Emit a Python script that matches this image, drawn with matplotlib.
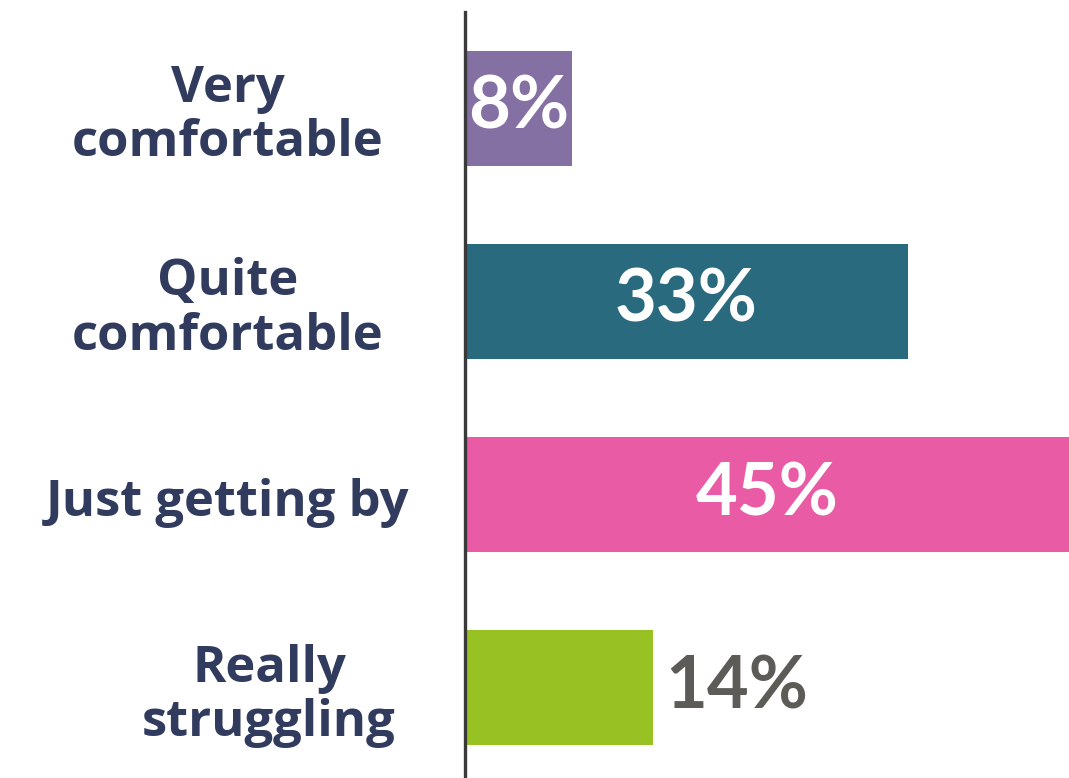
import matplotlib
matplotlib.use("Agg")
import matplotlib.pyplot as plt

# Survey responses: how people feel they are managing financially
categories = ["Very\ncomfortable", "Quite\ncomfortable", "Just getting by", "Really\nstruggling"]
shares = [8, 33, 45, 14]
value_labels = ["8%", "33%", "45%", "14%"]
bar_colors = ["#8470A3", "#2A6A7E", "#EA5BA5", "#98C124"]

NAVY = "#313B5E"
GREY = "#5C5B57"

plt.rcParams["font.family"] = ["Open Sans", "DejaVu Sans"]

fig = plt.figure(figsize=(10.69, 7.78), dpi=100)
ax = fig.add_axes([465 / 1069, 0.0, 1 - 465 / 1069, 1 - 12 / 778])

ypos = list(range(len(categories)))
ax.barh(ypos, shares, height=0.595, color=bar_colors, zorder=2)

ax.set_xlim(0, 45)
ax.set_ylim(3.466, -0.497)

# value labels: inside the bar in white, or just past the end in grey
for y, v, lab in zip(ypos, shares, value_labels):
    if lab == "14%":
        ax.text(v + 0.9, y, lab, ha="left", va="center", fontsize=52,
                fontweight="bold", color=GREY, zorder=3, family=["Lato"])
    else:
        ax.text(v / 2, y, lab, ha="center", va="center", fontsize=52,
                fontweight="bold", color="white", zorder=3, family=["Lato"])

# category names, centred in the left margin
label_x = [228, 228, 228, 269]
for y, name, lx in zip(ypos, categories, label_x):
    fx = lx / 1069
    _, fy = fig.transFigure.inverted().transform(ax.transData.transform((0, y)))
    fig.text(fx, fy - 8 / 778, name, ha="center", va="center", fontsize=36.5,
             fontweight="bold", color=NAVY, linespacing=1.12)

ax.set_xticks([])
ax.set_yticks([])
for side in ("top", "right", "bottom"):
    ax.spines[side].set_visible(False)
ax.spines["left"].set_color("#3A3A3A")
ax.spines["left"].set_linewidth(2.4)
ax.spines["left"].set_zorder(4)

fig.savefig("out.png", dpi=100, facecolor="white")
